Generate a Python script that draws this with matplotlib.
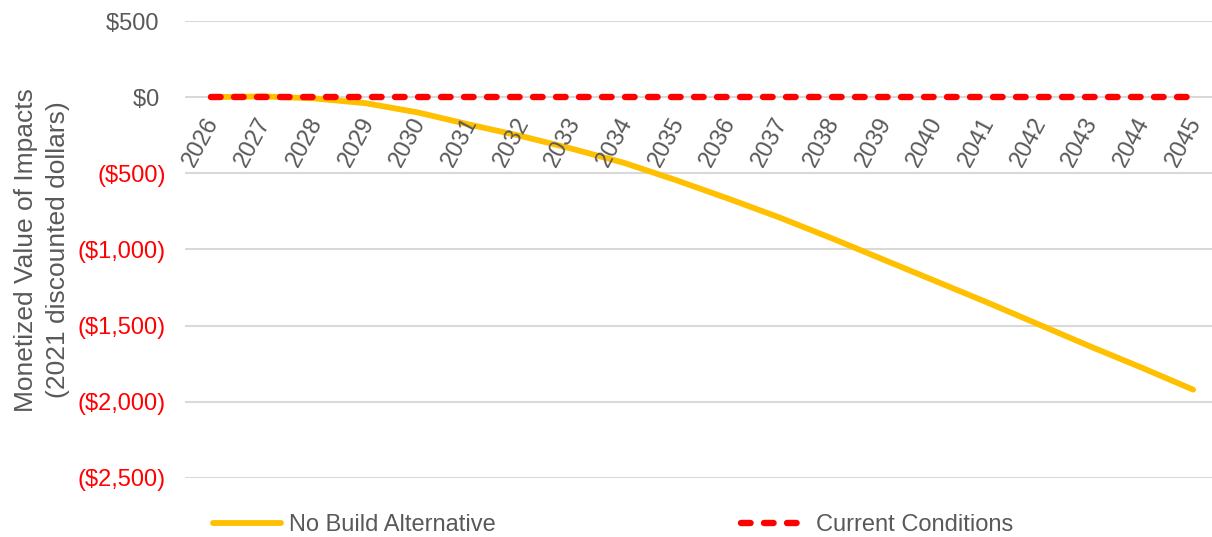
import matplotlib
matplotlib.use("Agg")
import matplotlib.pyplot as plt

# yearly monetized impacts, 2021 discounted dollars
years = [str(y) for y in range(2026, 2046)]
no_build = [0, 5, -8, -40, -100, -180, -255, -340, -432, -545,
            -665, -790, -925, -1065, -1205, -1345, -1490, -1635, -1775, -1920]
current = [0] * len(years)
y_ticks = [500, 0, -500, -1000, -1500, -2000, -2500]

GRAY = "#595959"
RED = "#FF0000"
GOLD = "#FFC000"

plt.rcParams["font.family"] = ["Liberation Sans", "DejaVu Sans"]

fig = plt.figure(figsize=(12.12, 5.37), dpi=100)
W, H = 1212, 537
ax = fig.add_axes([185 / W, 1 - 478 / H, (1219 - 185) / W, (478 - 21) / H])

x = list(range(len(years)))
ax.plot(x, no_build, color=GOLD, lw=4.2, solid_capstyle="round",
        label="No Build Alternative", zorder=3)
ax.plot(x, current, color=RED, lw=4.6, linestyle=(0, (1.5, 2.1)),
        dash_capstyle="round", label="Current Conditions", zorder=4)

ax.set_xlim(-0.5, len(years) - 0.5)
ax.set_ylim(-2500, 500)

# y axis: accounting style, negatives in red; positives padded like ")"
def fmt(v):
    s = "${:,.0f}".format(abs(v))
    return "({})".format(s) if v < 0 else s + " "

ax.set_yticks(y_ticks)
ax.set_yticklabels([fmt(v) for v in y_ticks], fontsize=17)
for lbl, v in zip(ax.get_yticklabels(), y_ticks):
    lbl.set_color(RED if v < 0 else GRAY)
ax.tick_params(axis="y", length=0, pad=14)
ax.grid(axis="y", color="#D9D9D9", lw=1.5)
ax.set_axisbelow(True)

# category labels sit under the zero line
ax.set_xticks([])
for i, yr in enumerate(years):
    ax.annotate(yr, xy=(i, 0), xytext=(9, -12), textcoords="offset points",
                ha="right", va="top", rotation=62, fontsize=17, color=GRAY)

for s in ax.spines.values():
    s.set_visible(False)

fig.text(42 / W, 1 - 250 / H, "Monetized Value of Impacts\n(2021 discounted dollars)",
         rotation=90, ha="center", va="center", multialignment="center",
         fontsize=19, color=GRAY, linespacing=1.4)

leg = fig.legend(loc="center left", bbox_to_anchor=(213 / W, 1 - 525 / H),
                 ncol=2, frameon=False, fontsize=17, handlelength=2.9,
                 handletextpad=0.3, columnspacing=10.4, borderpad=0,
                 borderaxespad=0)
for t in leg.get_texts():
    t.set_color(GRAY)

fig.savefig("out.png", dpi=100)
